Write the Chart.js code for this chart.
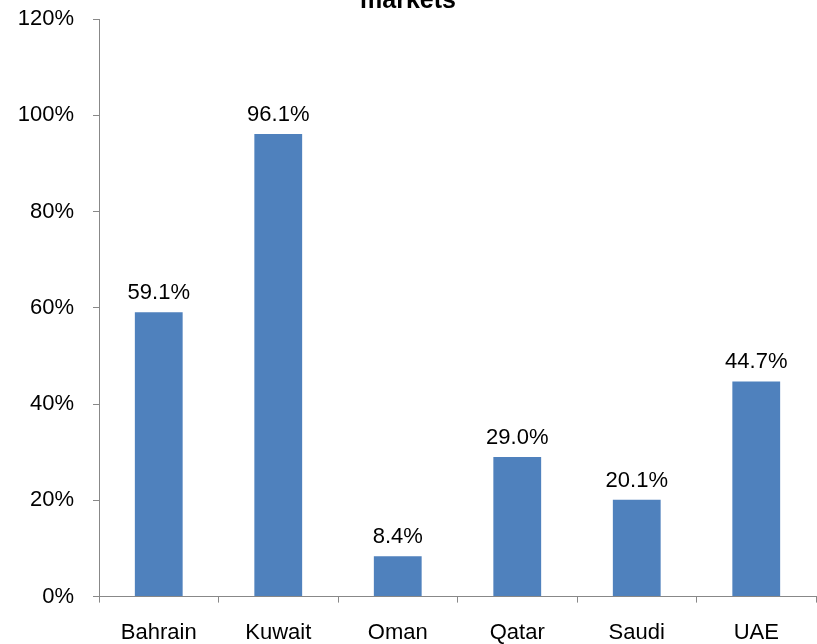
<!DOCTYPE html>
<html>
<head>
<meta charset="utf-8">
<script src="https://cdn.jsdelivr.net/npm/chart.js@4"></script>
<style>
    html, body { margin: 0; padding: 0; background: #fff; }
    #wrap { position: relative; width: 817px; height: 644px; overflow: hidden; }
    #myBarChart { position: absolute; left: 0; top: -30px; }
</style>
</head>
<body>
<div id="wrap">
    <canvas id="myBarChart" width="817" height="700"></canvas>
</div>
<script>
// data
const categories = ["Bahrain", "Kuwait", "Oman", "Qatar", "Saudi", "UAE"];
const values = [59.1, 96.1, 8.4, 29.0, 20.1, 44.7];
const yTicks = [0, 20, 40, 60, 80, 100, 120];
const titleText = "markets";

const axisGray = "#888888";
const fontFamily = "'Liberation Sans', Arial, sans-serif";

// value labels on top of each bar
const barLabels = {
    id: "barLabels",
    afterDatasetsDraw(chart) {
        const ctx = chart.ctx;
        const meta = chart.getDatasetMeta(0);
        ctx.save();
        ctx.font = "22px " + fontFamily;
        ctx.fillStyle = "#000";
        ctx.textAlign = "center";
        ctx.textBaseline = "alphabetic";
        meta.data.forEach((bar, i) => {
            ctx.fillText(values[i].toFixed(1) + "%", bar.x, bar.y - 13);
        });
        ctx.restore();
    }
};

const ctx = document.getElementById("myBarChart").getContext("2d");
const myBarChart = new Chart(ctx, {
    type: "bar",
    data: {
        labels: categories,
        datasets: [{
            data: values,
            backgroundColor: "#4F81BD",
            borderWidth: 0,
            categoryPercentage: 1,
            barPercentage: 0.4
        }]
    },
    options: {
        responsive: false,
        animation: false,
        layout: {
            padding: { top: 0, right: 1, bottom: 7, left: 0 }
        },
        plugins: {
            legend: { display: false },
            tooltip: { enabled: false },
            title: {
                display: true,
                text: titleText,
                color: "#000",
                font: { family: fontFamily, size: 25, weight: "bold", lineHeight: 1.2 },
                padding: { top: 16, bottom: 3 }
            }
        },
        scales: {
            x: {
                grid: {
                    offset: true,
                    drawOnChartArea: false,
                    drawTicks: true,
                    tickLength: 6,
                    color: axisGray
                },
                border: { color: axisGray, width: 1 },
                ticks: {
                    color: "#000",
                    padding: 17,
                    maxRotation: 0,
                    font: { family: fontFamily, size: 22 }
                }
            },
            y: {
                min: 0,
                max: 120,
                afterBuildTicks: (scale) => {
                    scale.ticks = yTicks.map(v => ({ value: v }));
                },
                afterFit: (scale) => {
                    scale.width = 99;
                },
                grid: {
                    drawOnChartArea: false,
                    drawTicks: true,
                    tickLength: 6,
                    color: axisGray
                },
                border: { color: axisGray, width: 1 },
                ticks: {
                    color: "#000",
                    padding: 19,
                    font: { family: fontFamily, size: 22 },
                    callback: (v) => v + "%"
                }
            }
        }
    },
    plugins: [barLabels]
});
</script>
</body>
</html>
